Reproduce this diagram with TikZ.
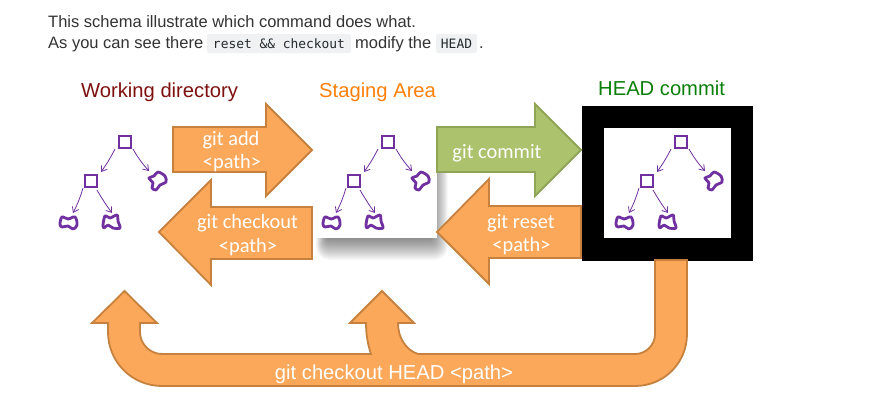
\documentclass[tikz,border=0pt]{standalone}
\usepackage{fontspec}
\setmainfont{Liberation Sans}
\newfontfamily\calibrifont{Carlito}
\newfontfamily\codefont{DejaVu Sans Mono}
\usetikzlibrary{arrows.meta}
\definecolor{bodytext}{HTML}{333333}
\definecolor{codeback}{HTML}{EFF1F3}
\definecolor{codetext}{HTML}{24292E}
\definecolor{orangefill}{HTML}{FBA85A}
\definecolor{orangeline}{HTML}{C7813F}
\definecolor{greenfill}{HTML}{ACC26C}
\definecolor{greenline}{HTML}{8FA457}
\definecolor{treeline}{HTML}{7030A0}
\tikzset{
  bodyline/.style={anchor=base west, inner sep=0pt, text=bodytext, font=\fontsize{16.5}{20}\selectfont},
  codechip/.style={anchor=base, inner sep=0pt, text=codetext, font=\codefont\fontsize{12.9}{15}\selectfont},
  title/.style={anchor=base west, inner sep=0pt, font=\fontsize{20.2}{24}\selectfont},
  arrowlabel/.style={anchor=base, inner sep=0pt, text=white, font=\calibrifont\fontsize{20.4}{24}\selectfont},
  orangearrow/.style={draw=orangeline, fill=orangefill, line width=1.8pt, line join=miter},
  greenarrow/.style={draw=greenline, fill=greenfill, line width=1.8pt, line join=miter},
  treebox/.style={draw=treeline, line width=2.6pt, minimum size=12pt, inner sep=0pt},
  treearrow/.style={draw=treeline, line width=.8pt, -{Straight Barb[length=5pt,width=7pt]}},
  treeblob/.style={draw=treeline, line width=2.8pt, line join=round},
  gittree/.pic={
    \node[treebox] (top) at (0,0) {};
    \node[treebox] (mid) at (-34,39) {};
    \coordinate (right) at (32,39);
    \coordinate (leafa) at (-56,81);
    \coordinate (leafb) at (-14,80);
    \draw[treeblob] plot[smooth cycle, tension=.5] coordinates {(24,36) (29,34) (33,30) (40,34) (41,40) (35,43) (31,48) (27,46) (28,41)};
    \draw[treeblob] plot[smooth cycle, tension=.6] coordinates {(-65,82) (-63,75) (-57,77) (-50,75) (-48,83) (-52,87) (-57,84) (-63,85)};
    \draw[treeblob] plot[smooth cycle, tension=.5] coordinates {(-22,83) (-20,74) (-15,76) (-8,73) (-7,79) (-5,86) (-12,86) (-17,83) (-21,86)};
    \draw[treearrow] (top) ++(-10,7) to[bend left=4] (-24,30);
    \draw[treearrow] (top) ++(8,7) to[bend right=6] (24,29);
    \draw[treearrow] (mid) ++(-8,7) to[bend left=5] (-52,71);
    \draw[treearrow] (mid) ++(6,9) to[bend right=3] (-13,71);
  }
}
\begin{document}
\begin{tikzpicture}[x=1pt,y=-1pt]
  \useasboundingbox (0,0) rectangle (881,400);
  \fill[white] (0,0) rectangle (881,400);
  % text above the schema
  \fill[codeback, rounded corners=2pt] (207,34) rectangle (351,53);
  \fill[codeback, rounded corners=2pt] (436,34) rectangle (477,53);
  \node[bodyline] (intro) at (48,27) {This schema illustrate which command does what.};
  \node[bodyline] (seethere) at (48,48) {As you can see there};
  \node[codechip] (resetcode) at (279,48) {reset \&\& checkout};
  \node[bodyline] (modify) at (355,48) {modify the};
  \node[codechip] (headcode) at (456.5,48) {HEAD};
  \node[bodyline] (stop) at (479,48) {.};
  \node[title, text={rgb,255:red,127;green,16;blue,16}] (working) at (81,97) {Working directory};
  \node[title, text={rgb,255:red,255;green,128;blue,10}] (staging) at (319,97) {Staging Area};
  \node[title, text={rgb,255:red,10;green,128;blue,10}] (head) at (598,95) {HEAD commit};
  % staging area
  \foreach \d in {0,...,24}
    \fill[black, opacity=.025, rounded corners=\d*.5pt+1pt] (328-\d*.5,165-\d*.5) rectangle (430+\d*.75,236+\d);
  \fill[white] (311,128) rectangle (437,238);
  % head commit
  \fill[black] (582,106) rectangle (753,261);
  \fill[white] (604,128) rectangle (731,238);
  \pic (wd) at (125,142) {gittree};
  \pic (sa) at (388,142) {gittree};
  \pic (hc) at (681,142) {gittree};
  % block arrows
  \draw[orangearrow] (173,127) -- (266,127) -- (266,104) -- (312,150) -- (266,196) -- (266,172) -- (173,172) -- cycle;
  \draw[orangearrow] (312,207) -- (211,207) -- (211,180) -- (159,232) -- (211,285) -- (211,259) -- (312,259) -- cycle;
  \draw[greenarrow] (437,127) -- (535,127) -- (535,104) -- (581,150) -- (535,196) -- (535,172) -- (437,172) -- cycle;
  \draw[orangearrow] (581,206) -- (489,206) -- (489,179) -- (437,232) -- (489,284) -- (489,258) -- (581,258) -- cycle;
  \draw[orangearrow] (655,260) -- (687,260) -- (687,334) .. controls (687,363) and (664,386) .. (635,386)
    -- (162,386) .. controls (132,386) and (108,362) .. (108,332) -- (108,323) -- (92,323) -- (124.5,291) -- (157,323)
    -- (140,323) -- (140,332) .. controls (140,344) and (150,354) .. (162,354) -- (371,354)
    .. controls (368,345) and (366,335) .. (366,323) -- (350,323) -- (382,291) -- (414,323) -- (398,323)
    .. controls (398,338) and (406,350) .. (418,354) -- (635,354) .. controls (646,354) and (655,345) .. (655,334) -- cycle;
  \node[arrowlabel] (addcmd) at (231,145) {git add};
  \node[arrowlabel] (addpath) at (232,168) {<path>};
  \node[arrowlabel] (checkoutcmd) at (247.5,228) {git checkout};
  \node[arrowlabel] (checkoutpath) at (248,252) {<path>};
  \node[arrowlabel] (commitcmd) at (497,158) {git commit};
  \node[arrowlabel] (resetcmd) at (521,228) {git reset};
  \node[arrowlabel] (resetpath) at (521.5,251) {<path>};
  \node[anchor=base, inner sep=0pt, text=white, font=\fontsize{20.2}{24}\selectfont] (headcheckout) at (394,379) {git checkout HEAD <path>};
\end{tikzpicture}
\end{document}
